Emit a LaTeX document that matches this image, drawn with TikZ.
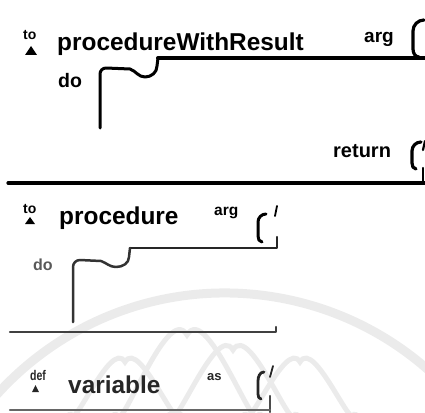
\documentclass[tikz,border=0pt]{standalone}
\usepackage{fontspec}
\setmainfont{Liberation Sans}
\begin{document}
\begin{tikzpicture}[x=1pt,y=-1pt,
  txt/.style={inner sep=0pt, anchor=base west},
  title/.style={txt, font=\fontsize{24.4}{26}\selectfont\bfseries},
  kw/.style={txt, font=\fontsize{#1}{#1}\selectfont\bfseries},
  bar/.style={line width=#1, line cap=round, line join=round},
  halo/.style={draw=black!8, line width=5}]
\useasboundingbox (0,0) rectangle (425,412);

% faint emblem in the background
\draw[halo, line width=9] (225,600) ++(-170:307) arc[start angle=-170, end angle=-10, radius=307];
\draw[halo] (70,412) to[out=-90,in=120] (125,362) to[out=60,in=-90] (180,412);
\draw[halo] (115,412) to[out=-90,in=120] (187,335) to[out=60,in=-90] (260,412);
\draw[halo] (170,412) to[out=-90,in=120] (233,350) to[out=60,in=-90] (296,412);
\draw[halo] (245,412) to[out=-90,in=120] (300,362) to[out=60,in=-90] (355,412);

% ---------- procedureWithResult ----------
\node[kw=14] (to1) at (23,40) {to};
\fill (25,55) -- (37,55) -- (31,46) -- cycle;
\node[title] (name1) at (57,50.5) {procedureWithResult};
\node[kw=19] (arg1) at (364,42) {arg};
\node[kw=19.5] (do1) at (58,87) {do};
\node[kw=20] (ret1) at (333,157) {return};
% argument socket
\draw[bar=3.2] (424,20) to[out=180,in=90] (413,31) -- (413,49) to[out=-90,in=180] (419,57);
% body socket
\draw[bar=4] (425,58) -- (158,58);
\draw[bar=3] (158,58) -- (157,66) to[out=-90,in=0] (145,77)
  to[out=180,in=-20] (130,69) -- (106,68) to[out=180,in=90] (100,74) -- (100,128);
% result socket
\draw[bar=3.2] (421,142) to[out=180,in=90] (412,151) -- (412,163) to[out=-90,in=180] (416,169);
\draw[bar=2.2] (425,141) -- (423,150);
\draw[bar=2.5] (423,168) -- (423,183);
\draw[bar=3.2] (8,183) -- (425,183);

% ---------- procedure ----------
\node[kw=14] (to2) at (23,213) {to};
\fill (25,224) -- (35,224) -- (30,217) -- cycle;
\node[title] (name2) at (59,224) {procedure};
\node[kw=15.5] (arg2) at (214,215) {arg};
\node[kw=16, text=black!65] (do2) at (33,270) {do};
% argument socket
\draw[bar=3] (266,214) to[out=180,in=90] (258,222) -- (258,236) to[out=-90,in=180] (262,242);
\draw[bar=1.8] (277,206) -- (275,216);
\draw[bar=2.5, black!85] (277,237) -- (277,248) -- (130,248);
% body socket
\draw[bar=2.5, black!80] (130,248) -- (129,257) to[out=-90,in=0] (116,267)
  to[out=180,in=-20] (101,261) -- (80,260) to[out=180,in=90] (73,267) -- (73,322);
\draw[bar=2.5, black!75] (10,332) -- (276,332) -- (276,327);

% ---------- variable ----------
\node[kw=14, text=black!85, xscale=0.75, transform shape] (def3) at (30,380) {def};
\fill[black!85] (32,392) -- (39,392) -- (35.5,385) -- cycle;
\node[title, text=black!85] (name3) at (68,393) {variable};
\node[kw=13, text=black!85] (as3) at (207,380) {as};
% value socket
\draw[bar=2.8, black!85] (264,372) to[out=180,in=90] (258,381) -- (258,394) to[out=-90,in=180] (261,399);
\draw[bar=1.8, black!85] (273,366) -- (270,377);
\draw[bar=2.2, black!70] (270,396) -- (270,412);
\draw[bar=2.2, black!60] (10,410) -- (270,410);
\end{tikzpicture}
\end{document}
